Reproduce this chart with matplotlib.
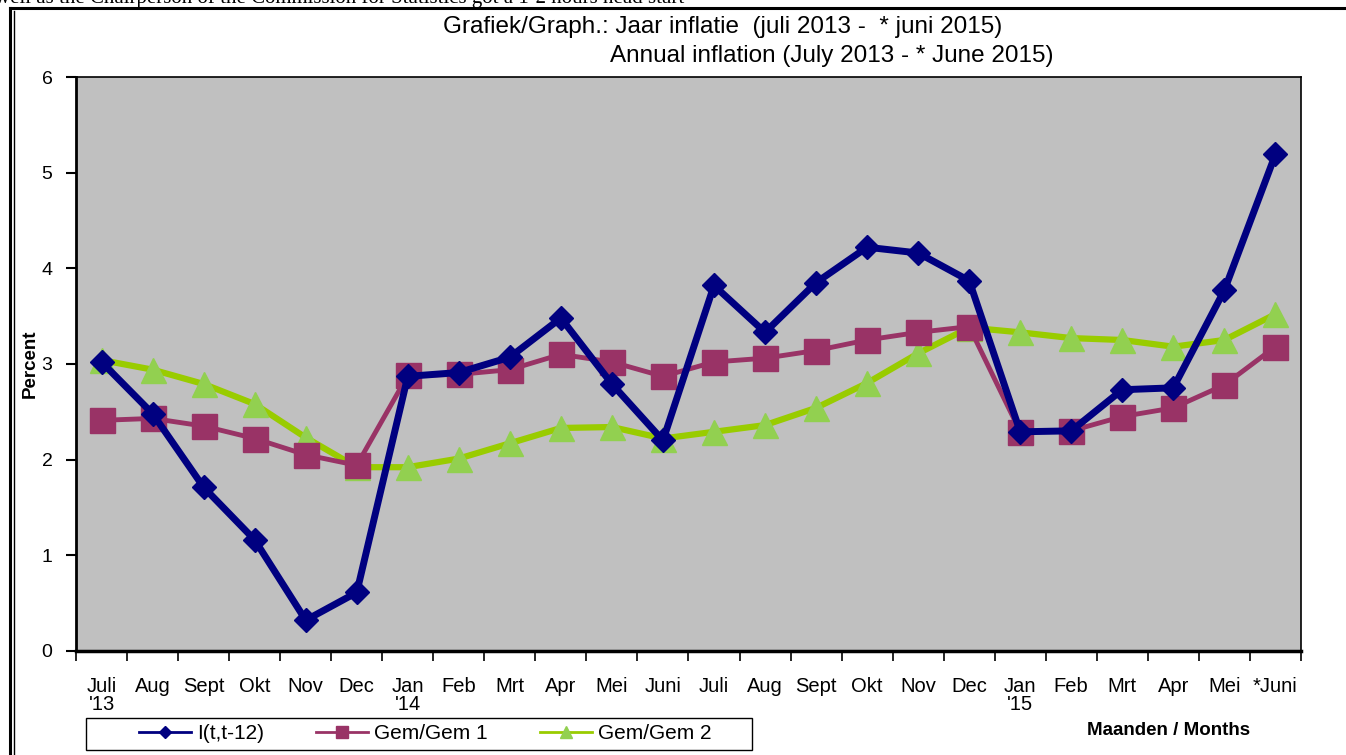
import numpy as np
import matplotlib.pyplot as plt
from matplotlib.lines import Line2D
from matplotlib.patches import Rectangle

plt.rcParams['font.family'] = ['Liberation Sans', 'DejaVu Sans']

months = ["Juli\n'13", "Aug", "Sept", "Okt", "Nov", "Dec", "Jan\n'14", "Feb", "Mrt", "Apr", "Mei", "Juni",
          "Juli", "Aug", "Sept", "Okt", "Nov", "Dec", "Jan\n'15", "Feb", "Mrt", "Apr", "Mei", "*Juni"]

# I(t,t-12)
infl_12 = [3.02, 2.48, 1.71, 1.16, 0.32, 0.61, 2.87, 2.91, 3.07, 3.48, 2.79, 2.20,
           3.82, 3.33, 3.85, 4.22, 4.16, 3.87, 2.29, 2.30, 2.73, 2.75, 3.77, 5.19]
# Gem/Gem 1
gem_1 = [2.41, 2.43, 2.35, 2.22, 2.05, 1.94, 2.88, 2.89, 2.94, 3.10, 3.02, 2.87,
         3.02, 3.06, 3.14, 3.25, 3.33, 3.39, 2.29, 2.30, 2.45, 2.54, 2.78, 3.18]
# Gem/Gem 2
gem_2 = [3.04, 2.94, 2.79, 2.58, 2.23, 1.92, 1.92, 2.01, 2.17, 2.33, 2.34, 2.22,
         2.29, 2.36, 2.54, 2.80, 3.11, 3.38, 3.33, 3.27, 3.25, 3.18, 3.25, 3.52]

series_names = ["I(t,t-12)", "Gem/Gem 1", "Gem/Gem 2"]

fig = plt.figure(figsize=(13.46, 7.55), dpi=100)
ax = fig.add_axes([0.0565, 0.138, 0.91, 0.760])
ax.set_facecolor('#C0C0C0')

x = np.arange(len(months))
l3, = ax.plot(x, gem_2, color='#99CC00', lw=4.5, marker='^', ms=18,
              mfc='#92D050', mec='#92D050', zorder=3)
l2, = ax.plot(x, gem_1, color='#993366', lw=3.5, marker='s', ms=18,
              mfc='#993366', mec='#993366', zorder=4)
l1, = ax.plot(x, infl_12, color='#000080', lw=5, marker='D', ms=12,
              mfc='#000080', mec='#000080', zorder=5)

ax.set_xlim(-0.5, len(months) - 0.5)
ax.set_ylim(0, 6)
ax.set_yticks(range(7))
ax.tick_params(axis='y', labelsize=14, length=7, width=1.5, pad=10)
ax.set_xticks(x)
ax.set_xticklabels(months, fontsize=14.5, linespacing=0.95)
ax.tick_params(axis='x', length=0, pad=19)
ax.set_xticks(np.arange(-0.5, len(months)), minor=True)
ax.tick_params(axis='x', which='minor', length=7, width=1.2)
for sp in ax.spines.values():
    sp.set_linewidth(1.2)
ax.spines['bottom'].set_linewidth(2.5)
ax.spines['left'].set_linewidth(2)

ax.set_ylabel('Percent', fontsize=13.5, fontweight='bold', labelpad=2)

fig.text(0.537, 0.964, "Grafiek/Graph.: Jaar inflatie  (juli 2013 -  * juni 2015)",
         ha='center', va='center', fontsize=17.5)
fig.text(0.618, 0.926, "Annual inflation (July 2013 - * June 2015)",
         ha='center', va='center', fontsize=17.5)
fig.text(0.868, 0.032, "Maanden / Months", ha='center', va='center',
         fontsize=13.5, fontweight='bold')

# clipped text of the page above the chart
fig.text(-0.004, 1.003, "well as the Chairperson of the Commission for Statistics got a 1-2 hours head start",
         ha='left', va='center', fontsize=15, family='Liberation Serif')

# frame lines
fig.add_artist(Line2D([0.0075, 1.0], [0.989, 0.989], color='black', lw=2.2))
fig.add_artist(Line2D([0.0078, 0.0078], [0.0, 0.989], color='black', lw=2.2))
fig.add_artist(Line2D([0.0102, 0.0102], [0.0, 0.986], color='black', lw=1.0))

# legend box and entries
fig.add_artist(Rectangle((0.064, 0.0066), 0.495, 0.042, transform=fig.transFigure,
                         fill=False, edgecolor='black', lw=1.0))
leg = fig.legend([l1, l2, l3], series_names, ncol=3, loc='center',
                 bbox_to_anchor=(0.316, 0.028), frameon=False,
                 fontsize=15, handlelength=2.5, handletextpad=0.3,
                 columnspacing=2.5, markerscale=0.5)
for h in leg.legend_handles:
    h.set_linewidth(2)

fig.savefig('out.png', dpi=100)
